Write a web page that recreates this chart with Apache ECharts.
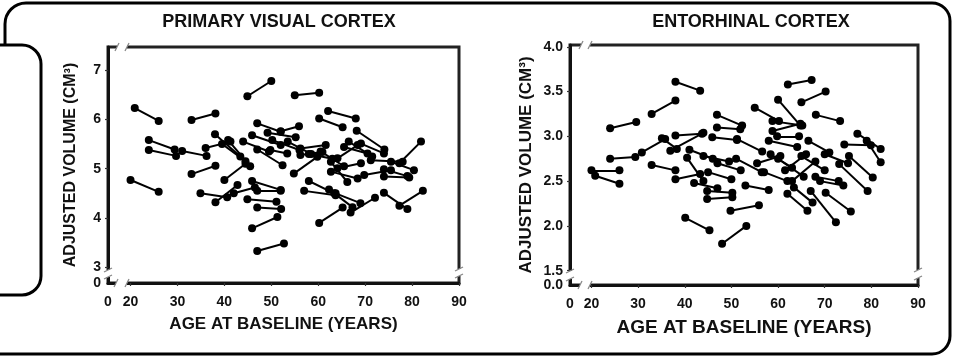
<!DOCTYPE html>
<html>
<head>
<meta charset="utf-8">
<style>html,body{margin:0;padding:0;background:#fff}#c{width:953px;height:357px}</style>
<script src="https://cdn.jsdelivr.net/npm/echarts@6/dist/echarts.min.js"></script>
</head>
<body>
<div id="c"></div>
<script>
// ---- Data: Primary visual cortex (baseline / follow-up) ----
const v1AgeBase   = [20.9,33.0,44.9,55.0,62.1,60.2,23.9,23.9,31.0,47.0,52.0,68.2,77.3,20.0,33.0,34.9,38.1,40.0,45.9,47.0,44.9,47.0,45.9,47.0,60.2,66.9,74.0,77.3,58.0,57.0,62.3,63.7,74.0,38.0,36.0,39.5,40.8,45.9,47.0,49.8,49.2,50.2,56.2,56.2,54.8,62.7,64.1,69.1,69.8,74.0,75.5,71.2,64.1,65.5,62.7,44.0,53.5,58.0,60.5,66.5,42.0];
const v1AgeFollow = [26.0,38.1,50.0,60.2,68.0,65.2,29.4,29.7,36.2,52.0,55.9,74.1,81.9,26.0,38.1,40.6,42.8,44.5,52.0,52.0,51.1,52.1,51.3,52.7,65.2,72.1,79.0,82.3,63.4,63.7,67.3,69.0,79.0,43.4,41.3,44.5,45.5,52.0,52.4,53.4,55.2,56.0,61.6,60.9,59.8,66.2,69.1,74.0,75.5,79.4,80.4,78.0,68.4,70.5,68.4,49.5,58.5,63.0,65.5,71.5,46.5];
const v1VolBase   = [6.23,5.99,6.47,6.49,6.17,6.02,5.58,5.38,5.36,5.92,5.76,5.77,5.11,4.77,4.89,4.50,4.32,4.77,4.75,4.55,4.38,4.21,3.79,3.33,3.90,4.11,4.51,4.25,4.75,4.55,4.58,4.50,4.99,5.70,5.42,5.50,5.58,5.68,5.39,5.38,5.73,5.58,5.41,5.28,4.90,5.14,5.01,5.51,4.87,4.84,5.14,5.17,5.21,5.44,4.94,5.55,5.55,5.30,5.35,5.55,4.50];
const v1VolFollow = [5.97,6.12,6.78,6.54,6.02,5.84,5.39,5.26,5.26,5.75,5.86,5.39,5.55,4.53,5.06,4.42,4.67,5.10,4.57,4.55,4.33,4.18,4.02,3.48,4.21,4.41,4.18,4.55,4.50,4.46,4.22,4.30,4.85,5.25,5.55,5.15,5.05,5.48,5.07,5.31,5.64,5.38,5.48,5.34,5.24,4.73,5.11,5.31,4.97,4.82,4.97,5.14,5.48,5.31,4.80,5.35,5.30,5.20,5.05,5.25,4.62];

// ---- Data: Entorhinal cortex (baseline / follow-up) ----
const ecAgeBase   = [20.0,20.8,24.0,24.0,32.9,38.0,32.9,38.0,40.1,48.0,44.8,44.8,40.5,46.9,46.9,38.0,45.9,30.8,35.1,36.9,49.8,62.0,63.4,67.0,70.2,75.2,73.1,79.0,62.1,65.0,60.0,68.1,55.0,58.8,58.8,59.8,51.2,58.0,77.0,74.2,51.0,55.5,57.0,60.0,61.5,63.0,65.0,68.0,70.0,53.0,45.0,42.0,47.0,44.0,41.0,66.5,58.4,69.0];
const ecAgeFollow = [26.0,26.0,29.4,29.6,38.0,43.3,38.0,43.3,45.3,53.2,50.2,50.2,44.0,52.3,51.9,43.7,51.2,35.8,38.3,44.0,55.9,66.3,67.4,72.4,75.6,80.3,79.2,82.0,67.2,70.2,64.8,73.3,60.2,65.2,64.8,64.5,56.6,64.1,82.0,79.9,56.5,60.5,62.0,65.5,66.0,68.0,70.0,73.0,75.0,58.0,50.0,47.0,52.0,49.5,46.0,71.0,63.0,74.0];
const ecVolBase   = [2.62,2.56,2.75,3.09,3.25,3.61,2.68,2.52,2.09,1.80,2.30,2.39,2.76,3.24,3.10,3.01,2.99,2.82,2.98,2.84,2.17,2.36,2.43,2.39,2.37,2.78,2.69,2.95,3.58,3.38,3.41,3.24,3.32,3.17,3.06,3.00,2.97,2.95,3.03,2.91,2.75,2.70,2.60,2.75,2.62,2.50,2.78,2.55,2.80,2.45,2.60,2.48,2.70,2.78,2.85,2.95,2.80,2.50];
const ecVolFollow = [2.62,2.47,2.77,3.16,3.40,3.51,2.62,2.58,1.95,2.00,2.32,2.37,2.50,3.12,3.08,3.03,2.96,2.97,2.86,3.04,2.23,2.17,2.26,2.04,2.16,2.54,2.39,2.71,3.63,3.50,3.12,3.17,3.17,3.12,3.14,3.00,2.83,2.88,2.86,2.90,2.60,2.78,2.50,2.55,2.80,2.72,2.62,2.50,2.70,2.40,2.52,2.42,2.62,2.72,2.75,2.82,2.65,2.45];

// ---- Tick labels ----
const xTickValues = [20,30,40,50,60,70,80,90];
const v1YTicks = [3,4,5,6,7];
const ecYTicks = [1.5,2.0,2.5,3.0,3.5,4.0];
const titles = ['PRIMARY VISUAL CORTEX','ENTORHINAL CORTEX'];
const xName = 'AGE AT BASELINE (YEARS)';
const yName = 'ADJUSTED VOLUME (CM\u00B3)';

// axis ranges (broken axes: the min is labelled as zero)
const v1XMin = 15.2, ecXMin = 15.4, xMax = 90;
const v1YMin = 2.68, v1YMax = 7.47, ecYMin = 1.34, ecYMax = 4.02;

const GL = {left:108, top:47, width:351, height:236};
const GR = {left:570, top:45, width:348, height:240};

const FONT = '"Liberation Sans", Arial, sans-serif';

function segs(a1,a2,v1,v2){ return a1.map((_,i)=>({coords:[[a1[i],v1[i]],[a2[i],v2[i]]]})); }
function pts(a1,a2,v1,v2){ const o=[]; a1.forEach((_,i)=>{o.push([a1[i],v1[i]]);o.push([a2[i],v2[i]]);}); return o; }

function xAxisCfg(idx, min, nameSize){
  return {
    type:'value', gridIndex:idx, min:min, max:xMax,
    name:xName, nameLocation:'middle', nameGap:33,
    nameTextStyle:{fontFamily:FONT, fontWeight:'bold', fontSize:nameSize, color:'#111'},
    axisLine:{show:true, lineStyle:{color:'#111', width:3}},
    axisTick:{show:true, customValues:xTickValues, length:3, lineStyle:{color:'#333', width:1.2}},
    axisLabel:{customValues:[min].concat(xTickValues), margin:12, color:'#111', fontFamily:FONT, fontWeight:'bold', fontSize:14,
      formatter:v=> v<19 ? '0' : String(Math.round(v))},
    splitLine:{show:false}
  };
}
function yAxisCfg(idx, min, max, ticks, zeroLab, dec, gap, nameSize){
  return {
    type:'value', gridIndex:idx, min:min, max:max,
    name:yName, nameLocation:'middle', nameGap:gap,
    nameTextStyle:{fontFamily:FONT, fontWeight:'bold', fontSize:nameSize, color:'#111'},
    axisLine:{show:true, lineStyle:{color:'#111', width:3}},
    axisTick:{show:true, customValues:ticks, length:3, lineStyle:{color:'#333', width:1.2}},
    axisLabel:{customValues:[min].concat(ticks), margin:7, color:'#111', fontFamily:FONT, fontWeight:'bold', fontSize:14,
      formatter:v=> v<ticks[0]-0.01 ? zeroLab : v.toFixed(dec)},
    splitLine:{show:false}
  };
}

// break marks on the frame
function hGap(x0,x1,y){
  return [
    {type:'rect', z:100, shape:{x:x0, y:y-3, width:x1-x0, height:6}, style:{fill:'#fff'}},
    {type:'line', z:101, shape:{x1:x0-2, y1:y+4, x2:x0+2, y2:y-4}, style:{stroke:'#888', lineWidth:1.3}},
    {type:'line', z:101, shape:{x1:x1-2, y1:y+4, x2:x1+2, y2:y-4}, style:{stroke:'#888', lineWidth:1.3}}
  ];
}
function vGap(x,y0,y1){
  return [
    {type:'rect', z:100, shape:{x:x-3, y:y0, width:6, height:y1-y0}, style:{fill:'#fff'}},
    {type:'line', z:101, shape:{x1:x-4, y1:y0+2, x2:x+4, y2:y0-2}, style:{stroke:'#888', lineWidth:1.3}},
    {type:'line', z:101, shape:{x1:x-4, y1:y1+2, x2:x+4, y2:y1-2}, style:{stroke:'#888', lineWidth:1.3}}
  ];
}
function gapsFor(G, xg, yg){
  const L=G.left, T=G.top, R=G.left+G.width, B=G.top+G.height;
  return [].concat(
    hGap(L+xg[0], L+xg[1], T),
    hGap(L+xg[0]-1, L+xg[1], B),
    vGap(L, B-yg[1], B-yg[0]),
    vGap(R, B-yg[1]-1, B-yg[0]-1)
  );
}
const FR = {stroke:'#000', lineWidth:3, fill:'none'};
function ln(x1,y1,x2,y2){ return {type:'line', shape:{x1,y1,x2,y2}, style:FR}; }
function arc(cx,cy,r,a0,a1){ return {type:'arc', shape:{cx,cy,r,startAngle:a0,endAngle:a1,clockwise:true}, style:FR}; }
const P = Math.PI;
const frame = [
  ln(5,45,5,24), arc(26,24,21,P,1.5*P), ln(26,3,932,3), arc(932,21,18,1.5*P,2*P),
  ln(950,21,950,336), arc(932,336,18,0,0.5*P), ln(932,354,0,354),
  ln(0,45,22,45), arc(22,64,19,1.5*P,2*P), ln(41,64,41,276), arc(22,276,19,0,0.5*P), ln(22,295,0,295)
];

const graphics = frame.concat([
  {type:'text', x:279, y:22, style:{text:titles[0], font:'bold 18px '+FONT, fill:'#111', align:'center', verticalAlign:'middle'}},
  {type:'text', x:751, y:22, style:{text:titles[1], font:'bold 18px '+FONT, fill:'#111', align:'center', verticalAlign:'middle'}}
]).concat(gapsFor(GL,[9,19],[6,13]), gapsFor(GR,[11,20],[6,14]));

const chart = echarts.init(document.getElementById('c'), null, {renderer:'canvas'});
chart.setOption({
  animation:false,
  backgroundColor:'#fff',
  grid:[
    Object.assign({show:true, borderColor:'#222', borderWidth:3, backgroundColor:'transparent'}, GL),
    Object.assign({show:true, borderColor:'#222', borderWidth:3, backgroundColor:'transparent'}, GR)
  ],
  xAxis:[xAxisCfg(0, v1XMin, 17), xAxisCfg(1, ecXMin, 19)],
  yAxis:[
    yAxisCfg(0, v1YMin, v1YMax, v1YTicks, '0', 0, 29, 16),
    yAxisCfg(1, ecYMin, ecYMax, ecYTicks, '0.0', 1, 35, 17)
  ],
  graphic:graphics,
  series:[
    {type:'lines', coordinateSystem:'cartesian2d', xAxisIndex:0, yAxisIndex:0,
     lineStyle:{color:'#000', width:2, opacity:1, curveness:0}, data:segs(v1AgeBase,v1AgeFollow,v1VolBase,v1VolFollow), silent:true},
    {type:'scatter', xAxisIndex:0, yAxisIndex:0, symbol:'circle', symbolSize:8,
     itemStyle:{color:'#000', opacity:1}, data:pts(v1AgeBase,v1AgeFollow,v1VolBase,v1VolFollow), silent:true},
    {type:'lines', coordinateSystem:'cartesian2d', xAxisIndex:1, yAxisIndex:1,
     lineStyle:{color:'#000', width:2, opacity:1, curveness:0}, data:segs(ecAgeBase,ecAgeFollow,ecVolBase,ecVolFollow), silent:true},
    {type:'scatter', xAxisIndex:1, yAxisIndex:1, symbol:'circle', symbolSize:8,
     itemStyle:{color:'#000', opacity:1}, data:pts(ecAgeBase,ecAgeFollow,ecVolBase,ecVolFollow), silent:true}
  ]
});
</script>
</body>
</html>
